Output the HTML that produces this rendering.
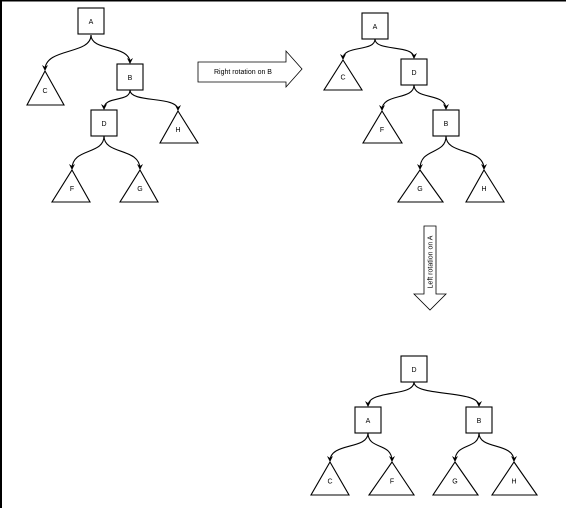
<!DOCTYPE html>
<html><head><meta charset="utf-8"><style>
html,body{margin:0;padding:0;background:#fff;}
svg{display:block;}
text{font-family:"Liberation Sans",sans-serif;font-size:7px;fill:#000;}
</style></head><body>
<svg id="s" width="566" height="508" viewBox="0 0 566 508" xmlns="http://www.w3.org/2000/svg">
<defs><marker id="ah" markerWidth="6" markerHeight="6" refX="5" refY="3" orient="auto" markerUnits="userSpaceOnUse"><path d="M0,0 L6,3 L0,6 L2,3 z" fill="#000"/></marker></defs>
<rect x="0" y="0" width="566" height="1.5" fill="#000"/>
<rect x="0" y="0" width="2" height="508" fill="#000"/>
<g>
<path d="M198,62 L286,62 L286,51 L302,69 L286,87 L286,82 L198,82 Z" fill="#fff" stroke="#000" stroke-width="0.8"/>
<text x="243" y="74" text-anchor="middle">Right rotation on B</text>
</g>
<g>
<path d="M424,226 L436,226 L436,294 L446,294 L430,310 L414,294 L424,294 Z" fill="#fff" stroke="#000" stroke-width="0.8"/>
<text x="0" y="0" text-anchor="middle" transform="translate(432.5,262) rotate(-90)">Left rotation on A</text>
</g>
<g id="g"></g>
</svg>
<script>
const g=document.getElementById('g');
const NS='http://www.w3.org/2000/svg';
// boxes: [label, cx, top]; triangles: [label, apexX, apexY, baseY, left, right]
const boxes=[['A',91,8,'tree1'],['B',130,64,'tree1'],['D',104,110,'tree1'],
 ['A',375,13,'tree2'],['D',414,59,'tree2'],['B',446,110,'tree2'],
 ['D',414,356,'tree3'],['A',368,407,'tree3'],['B',479,407,'tree3']];
const tris=[['C',45,71,105,27,64,'tree1'],['H',178,111,143,160,198,'tree1'],['F',72,170,202,52,90,'tree1'],['G',140,170,202,120,158,'tree1'],
 ['C',343,60,90,324,362,'tree2'],['F',382,111,143,363,402,'tree2'],['G',420,170,202,398,443,'tree2'],['H',484,170,202,466,504,'tree2'],
 ['C',330,462,495,311,349,'tree3'],['F',392,462,495,369,414,'tree3'],['G',455,462,495,433,478,'tree3'],['H',514,462,495,492,537,'tree3']];
// edges: [fromX, fromY, toX, toY]
const edges=[[91,35,45,71],[91,35,130,64],[130,90,104,110],[130,90,178,111],[104,136,72,170],[104,136,140,170],
 [375,39,343,60],[375,39,414,59],[414,85,382,111],[414,85,446,110],[446,136,420,170],[446,136,484,170],
 [414,382,368,407],[414,382,479,407],[368,433,330,462],[368,433,392,462],[479,433,455,462],[479,433,514,462]];
edges.forEach((e,i)=>{
 const p=document.createElementNS(NS,'path');
 const [x1,y1,x2,y2]=e;const m=y1+(y2-y1)*0.45;
 p.setAttribute('d',`M${x1},${y1} C${x1},${m+4} ${x2},${m-4} ${x2},${y2-1}`);
 p.setAttribute('fill','none');p.setAttribute('stroke','#000');p.setAttribute('stroke-width','1.1');
 p.setAttribute('marker-end','url(#ah)');
 
 
 g.appendChild(p);
});
boxes.forEach(b=>{
 const [l,cx,t,tr]=b;
 const grp=document.createElementNS(NS,'g');
 
 
 const r=document.createElementNS(NS,'rect');
 r.setAttribute('x',cx-13);r.setAttribute('y',t);r.setAttribute('width',26);r.setAttribute('height',26);
 r.setAttribute('fill','#fff');r.setAttribute('stroke','#000');r.setAttribute('stroke-width','1.1');
 grp.appendChild(r);
 const tx=document.createElementNS(NS,'text');
 tx.setAttribute('x',cx);tx.setAttribute('y',t+16);tx.setAttribute('text-anchor','middle');tx.textContent=l;
 grp.appendChild(tx);g.appendChild(grp);
});
tris.forEach(d=>{
 const [l,ax,ay,by,lx,rx]=d;
 const grp=document.createElementNS(NS,'g');
 
 
 const p=document.createElementNS(NS,'polygon');
 p.setAttribute('points',`${ax},${ay} ${rx},${by} ${lx},${by}`);
 p.setAttribute('fill','#fff');p.setAttribute('stroke','#000');p.setAttribute('stroke-width','1.1');
 grp.appendChild(p);
 const tx=document.createElementNS(NS,'text');
 tx.setAttribute('x',ax);tx.setAttribute('y',ay+(by-ay)*0.65);tx.setAttribute('text-anchor','middle');tx.textContent=l;
 grp.appendChild(tx);g.appendChild(grp);
});
</script>
</body></html>
